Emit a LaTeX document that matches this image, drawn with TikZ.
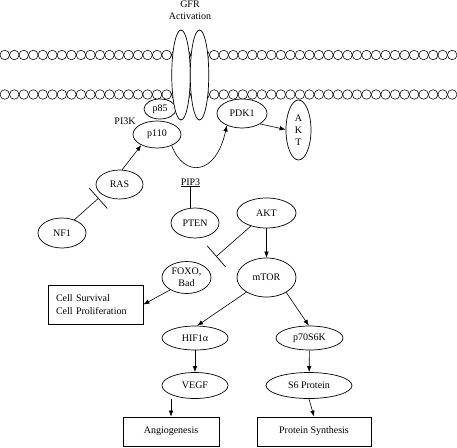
\documentclass[tikz,border=0pt]{standalone}
\usepackage{fontspec}
\setmainfont{Liberation Serif}
\usetikzlibrary{shapes.geometric,arrows.meta}
\begin{document}
\begin{tikzpicture}[x=1pt,y=-1pt,
  lbl/.style={inner sep=0.5pt,font=\fontsize{10}{12}\selectfont},
  oval/.style={ellipse,draw,line width=0.7pt,fill=white,inner sep=0pt,align=center,font=\fontsize{10}{12}\selectfont},
  box/.style={rectangle,draw,line width=0.8pt,inner sep=0pt,font=\fontsize{10}{13}\selectfont},
  conn/.style={line width=0.6pt},
  act/.style={conn,-{Latex[length=6pt,width=4.5pt]}},
  inh/.style={conn,-{Bar[width=#1,line width=0.7pt]}}
]
\useasboundingbox (0,0) rectangle (457,447);

% membrane beads
\foreach \k in {0,...,47} {
  \draw[line width=0.55pt] ({4.76+9.52*\k},55) circle[radius=4.76];
  \draw[line width=0.55pt] ({4.76+9.52*\k},94.5) circle[radius=4.76];
}

% label
\node[lbl,align=center] (gfr) at (190,10.5) {GFR\\Activation};

% proteins at membrane
\node[oval,minimum width=32pt,minimum height=20pt] (p85) at (160,109) {p85};
\node[oval,minimum width=18.5pt,minimum height=90pt] (gfra) at (181,75) {};
\node[oval,minimum width=18.5pt,minimum height=90pt] (gfrb) at (199.5,75) {};
\node[oval,minimum width=48pt,minimum height=27pt] (p110) at (157,134.5) {p110};
\node[lbl] (pi3k) at (125,121) {PI3K};
\node[oval,minimum width=50pt,minimum height=29pt] (pdk1) at (242,113.5) {PDK1};
\node[oval,minimum width=25pt,minimum height=60pt] (akta) at (298.5,130) {A\\K\\T};

\node[oval,minimum width=47pt,minimum height=29pt] (ras) at (119.5,184.5) {RAS};
\node[oval,minimum width=48pt,minimum height=30pt] (nf1) at (62,233) {NF1};
\node[lbl] (pip3) at (190.5,182) {PIP3};
\node[oval,minimum width=48pt,minimum height=30pt] (pten) at (195,223) {PTEN};
\node[oval,minimum width=59pt,minimum height=30pt] (aktb) at (266.5,213) {AKT};
\node[oval,minimum width=59pt,minimum height=39pt] (mtor) at (266.5,277.5) {mTOR};
\node[oval,minimum width=49pt,minimum height=32pt] (foxo) at (186.5,277.5) {FOXO,\\Bad};
\node[box,minimum width=95pt,minimum height=39pt,text width=79pt,align=left] (cell) at (95.5,304.5) {Cell Survival\\Cell Proliferation};

\node[oval,minimum width=66pt,minimum height=24pt] (hif) at (195,338) {HIF1α};
\node[oval,minimum width=67pt,minimum height=24pt] (p70) at (309.5,338) {p70S6K};
\node[oval,minimum width=66pt,minimum height=26pt] (vegf) at (195,385.5) {VEGF};
\node[oval,minimum width=86pt,minimum height=26pt] (s6) at (309,385.5) {S6 Protein};
\node[box,minimum width=96pt,minimum height=29pt] (angio) at (171,431.5) {Angiogenesis};
\node[box,minimum width=114pt,minimum height=29pt] (prot) at (314,431.5) {Protein Synthesis};

% connectors
\draw[act] (ras.80) -- (p110.214);
\draw[act] (p110.-37) .. controls (184,178) and (216,176) .. (pdk1.218);
\draw[act] (pdk1.-30) -- (akta.178);
\draw[inh=27pt,shorten >=5pt] (nf1.47) -- (ras.211);
\draw[inh=19pt] (pten.north -| pip3.south) -- (pip3.south);
\draw[act] (aktb) -- (mtor);
\draw[inh=28pt,shorten >=15pt] (aktb.220) -- (foxo.31);
\draw[act] (foxo.217) -- (cell.east);
\draw[act] (mtor.216) -- (hif.80);
\draw[act] (mtor.-37) -- (p70.93);
\draw[act] (hif) -- (vegf);
\draw[act] (p70) -- (s6);
\draw[act] (vegf.south -| angio.north) -- (angio.north);
\draw[act] (s6.south) -- (prot.north);
\end{tikzpicture}
\end{document}
